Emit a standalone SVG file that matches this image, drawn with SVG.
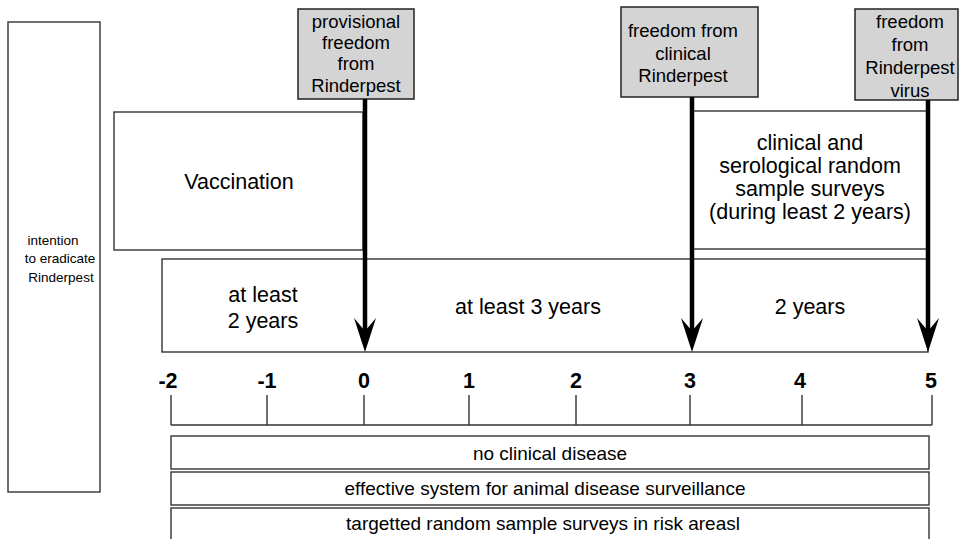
<svg xmlns="http://www.w3.org/2000/svg" width="961" height="539" viewBox="0 0 961 539">
<style>
text{font-family:"Liberation Sans",Arial,sans-serif;fill:#000;text-anchor:middle}
.box{fill:#fff;stroke:#333;stroke-width:1.4}
.gbox{fill:#d4d4d4;stroke:#222;stroke-width:1.5}
.g{font-size:18.5px}
.m{font-size:21.5px}
.s{font-size:13.5px}
.b{font-size:19px}
.ax{font-size:21.5px;font-weight:bold}
.arrow{stroke:#000;stroke-width:4.5;fill:none}
.head{fill:#000}
.axis{stroke:#333;stroke-width:1.4;fill:none}
</style>
<rect width="961" height="539" fill="#fff"/>
<g id="intention">
<rect class="box" x="8" y="22" width="92" height="470"/>
<text class="s" x="53" y="245">intention</text>
<text class="s" x="60" y="263">to eradicate</text>
<text class="s" x="61" y="282">Rinderpest</text>
</g>
<g id="vaccination">
<rect class="box" x="114" y="112" width="249" height="138"/>
<text class="m" x="239" y="189">Vaccination</text>
</g>
<g id="surveys">
<rect class="box" x="693" y="111" width="235" height="138"/>
<text class="m" x="810" y="150">clinical and</text>
<text class="m" x="810" y="173">serological random</text>
<text class="m" x="810" y="196">sample surveys</text>
<text class="m" x="810" y="219">(during least 2 years)</text>
</g>
<g id="periods">
<rect class="box" x="162" y="259" width="766" height="93"/>
<text class="m" x="263" y="302">at least</text>
<text class="m" x="263" y="328">2 years</text>
<text class="m" x="528" y="314">at least 3 years</text>
<text class="m" x="810" y="314">2 years</text>
</g>
<g id="provisional">
<rect class="gbox" x="298" y="9" width="116" height="90"/>
<text class="g" x="356" y="28">provisional</text>
<text class="g" x="356" y="49">freedom</text>
<text class="g" x="356" y="70">from</text>
<text class="g" x="356" y="92">Rinderpest</text>
</g>
<g id="clinical-freedom">
<rect class="gbox" x="621" y="7" width="137" height="90"/>
<text class="g" x="683" y="37">freedom from</text>
<text class="g" x="683" y="60">clinical</text>
<text class="g" x="683" y="82">Rinderpest</text>
</g>
<g id="virus-freedom">
<rect class="gbox" x="855" y="9" width="103" height="91"/>
<text class="g" x="910" y="28">freedom</text>
<text class="g" x="910" y="51">from</text>
<text class="g" x="910" y="74">Rinderpest</text>
<text class="g" x="910" y="97">virus</text>
</g>
<g id="connectors">
<line class="arrow" x1="365" y1="99" x2="365" y2="335"/>
<polygon class="head" points="365,352 354,318 365,331 376,318"/>
<line class="arrow" x1="692" y1="97" x2="692" y2="335"/>
<polygon class="head" points="692,352 681,318 692,331 703,318"/>
<line class="arrow" x1="928" y1="100" x2="928" y2="335"/>
<polygon class="head" points="928,352 917,318 928,331 939,318"/>
</g>
<g id="axis">
<path class="axis" d="M171,425H932M171,395V425M267,395V425M364,395V425M469,395V425M576,395V425M690,395V425M802,395V425M932,395V425"/>
<text class="ax" x="168" y="388">-2</text>
<text class="ax" x="267" y="388">-1</text>
<text class="ax" x="364" y="388">0</text>
<text class="ax" x="469" y="388">1</text>
<text class="ax" x="576" y="388">2</text>
<text class="ax" x="690" y="388">3</text>
<text class="ax" x="800" y="388">4</text>
<text class="ax" x="931" y="388">5</text>
</g>
<g id="no-clinical">
<rect class="box" x="171" y="436" width="758" height="33"/>
<text class="b" x="550" y="460">no clinical disease</text>
</g>
<g id="surveillance">
<rect class="box" x="171" y="472" width="758" height="33"/>
<text class="b" x="545" y="495">effective system for animal disease surveillance</text>
</g>
<g id="targetted">
<rect class="box" x="171" y="508" width="758" height="40"/>
<text class="b" x="543" y="530">targetted random sample surveys in risk areasl</text>
</g>
</svg>
